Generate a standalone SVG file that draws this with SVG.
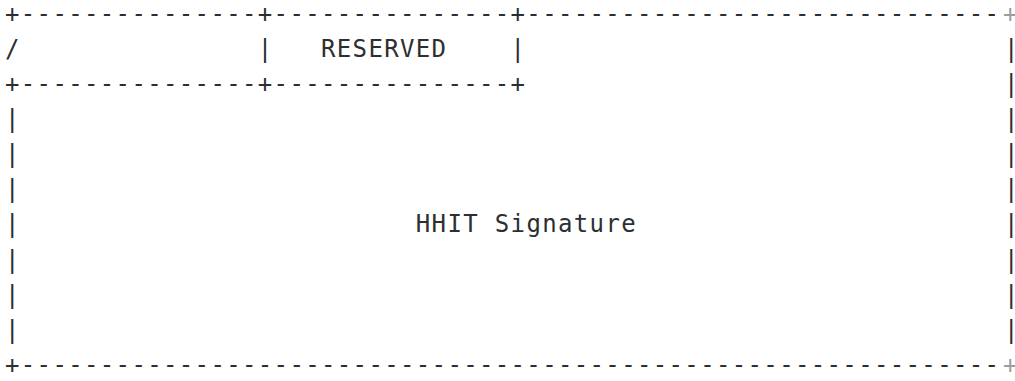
<svg xmlns="http://www.w3.org/2000/svg" width="1015" height="381" viewBox="0 0 1015 381">
<style>
text{font-family:"DejaVu Sans Mono","Liberation Mono",monospace;font-size:24px;fill:#2b2f33;letter-spacing:1.35px;white-space:pre}
.edge{fill:#9a9da0}
</style>
<rect width="1015" height="381" fill="#fff"/>
<g id="border">
<text x="5" y="21.5">+---------------+---------------+------------------------------</text>
<text class="edge" x="1003" y="21.5">+</text>
<text x="5" y="56.7">/</text>
<text x="257.8" y="56.7">|</text>
<text x="510.6" y="56.7">|</text>
<text x="5" y="91.9">+---------------+---------------+</text>
<text x="5" y="126.8">|</text>
<text x="5" y="162">|</text>
<text x="5" y="197.2">|</text>
<text x="5" y="232.4">|</text>
<text x="5" y="267.6">|</text>
<text x="5" y="302.8">|</text>
<text x="5" y="338">|</text>
<g class="edge">
<text x="1004" y="56.7">|</text>
<text x="1004" y="91.9">|</text>
<text x="1004" y="126.8">|</text>
<text x="1004" y="162">|</text>
<text x="1004" y="197.2">|</text>
<text x="1004" y="232.4">|</text>
<text x="1004" y="267.6">|</text>
<text x="1004" y="302.8">|</text>
<text x="1004" y="338">|</text>
</g>
<text x="5" y="373">+--------------------------------------------------------------</text>
<text class="edge" x="1003" y="373">+</text>
</g>
<g id="reserved"><text x="321" y="56.7">RESERVED</text></g>
<g id="signature"><text x="415.8" y="232.4">HHIT Signature</text></g>
</svg>
